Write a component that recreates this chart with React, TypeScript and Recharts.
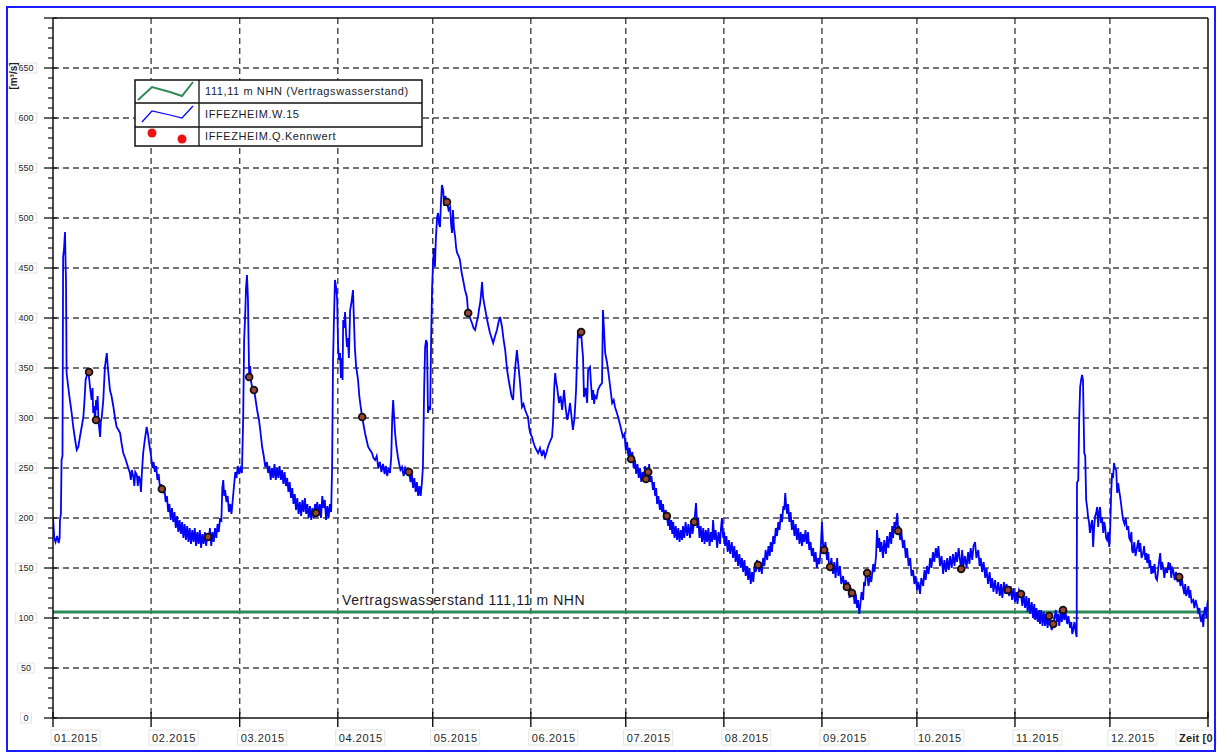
import React from 'react';
import { ComposedChart, Line, Scatter, XAxis, YAxis, CartesianGrid, ReferenceLine } from 'recharts';

const FONT = '"Liberation Sans", Arial, sans-serif';

// Month starts (day of year 2015) and their tick labels
const monthStarts = [0, 31, 59, 90, 120, 151, 181, 212, 243, 273, 304, 334, 365];
const monthLabels = ['01.2015', '02.2015', '03.2015', '04.2015', '05.2015', '06.2015', '07.2015', '08.2015', '09.2015', '10.2015', '11.2015', '12.2015', 'Zeit [0'];
const yMajorTicks = [0, 50, 100, 150, 200, 250, 300, 350, 400, 450, 500, 550, 600, 650, 700];
const yAllTicks = Array.from({ length: 71 }, (_, i) => i * 10);

// 111,11 m NHN (Vertragswasserstand) expressed as discharge
const VERTRAG_Q = 106;

// IFFEZHEIM.W.15 — [day, m³/s]
const janW = [[0,201],[0.4,180],[0.8,176],[1.3,182],[1.8,175],[2.1,180],[2.2,198],[2.5,204],[2.7,258],[3.0,262],[3.2,461],[3.5,470],[3.8,486],[4.0,450],[4.1,440],[4.3,345],[4.7,334],[5.2,321],[5.6,312],[5.9,305],[6.4,291],[7.0,278],[7.5,268],[8.0,271],[8.5,281],[9.0,290],[9.6,301],[10.0,320],[10.3,338],[10.8,344],[11.2,346],[11.7,331],[12.2,318],[12.5,330],[12.7,305],[13.0,312],[13.3,296],[13.6,318],[13.8,308],[14.1,322],[14.4,296],[14.9,281],[15.1,296],[15.4,301],[15.9,318],[16.4,351],[16.7,358],[17.0,365],[17.3,352],[17.5,345],[18.0,328],[18.5,322],[19.1,311],[19.6,300],[20.1,291],[20.7,288],[21.2,285],[21.7,274],[22.2,265],[22.8,260],[23.3,255],[23.8,250],[24.3,245],[24.6,238],[24.9,248],[25.4,241],[25.7,232],[26.0,246],[26.5,243],[26.8,232],[27.1,242],[27.5,238],[27.8,226],[28.1,246],[28.5,265],[29.0,278],[29.6,291],[30.0,284],[30.5,272]];
const febW = [[31.0,262],[31.4,250],[31.8,256],[32.2,246],[32.6,252],[33.0,238],[33.4,244],[33.8,230],[34.2,234],[34.4,229],[34.8,226],[35.2,230],[35.6,216],[36.0,222],[36.4,206],[36.8,214],[37.2,198],[37.6,210],[38.0,196],[38.4,206],[38.8,190],[39.2,202],[39.6,186],[40.0,198],[40.4,184],[40.8,196],[41.2,180],[41.6,194],[42.0,178],[42.4,192],[42.8,176],[43.2,190],[43.6,174],[44.0,188],[44.4,176],[44.8,190],[45.2,172],[45.6,186],[46.0,174],[46.4,188],[46.8,170],[47.2,184],[47.6,174],[48.0,186],[48.4,172],[48.8,184],[49.2,178],[49.6,190],[50.0,172],[50.4,186],[50.8,176],[51.2,190],[51.6,180],[52.0,194],[52.4,186],[52.8,200],[53.2,196],[53.5,230],[53.8,238],[54.1,222],[54.4,228],[54.8,216],[55.2,222],[55.6,206],[56.0,214],[56.4,204],[56.8,218],[57.2,232],[57.6,246],[58.0,240],[58.4,252],[58.8,244]];
const marW = [[59.2,250],[59.7,245],[60.1,300],[60.4,378],[60.7,400],[61.0,430],[61.3,443],[61.6,420],[61.8,378],[62.0,341],[62.3,352],[62.6,336],[63.0,330],[63.5,328],[63.9,321],[64.5,308],[65.1,298],[65.6,285],[66.1,271],[66.6,262],[67.1,251],[67.6,256],[68.0,245],[68.4,252],[68.8,238],[69.2,250],[69.6,240],[70.0,254],[70.4,238],[70.8,250],[71.2,240],[71.6,252],[72.0,238],[72.4,248],[72.8,234],[73.2,246],[73.6,232],[74.0,240],[74.4,226],[74.8,236],[75.2,220],[75.6,230],[76.0,214],[76.4,224],[76.8,208],[77.2,220],[77.6,204],[78.0,216],[78.4,202],[78.8,218],[79.2,206],[79.6,220],[80.0,204],[80.4,214],[80.8,200],[81.2,212],[81.6,198],[82.0,210],[82.4,200],[82.8,214],[83.1,205],[83.5,216],[83.9,202],[84.3,214],[84.7,200],[85.1,222],[85.5,210],[85.9,218],[86.3,198],[86.7,212],[87.1,200],[87.5,214],[87.9,206],[88.2,250],[88.5,358],[88.8,400],[89.1,438]];
const aprW = [[89.5,430],[89.8,418],[90.1,371],[90.4,358],[90.7,365],[91.0,340],[91.3,360],[91.5,338],[91.7,398],[92.0,390],[92.3,406],[92.6,385],[92.9,371],[93.2,380],[93.5,360],[93.9,408],[94.3,415],[94.8,428],[95.1,398],[95.4,370],[95.8,351],[96.1,345],[96.4,338],[96.8,322],[97.2,312],[97.7,301],[98.2,292],[98.6,285],[99.1,278],[99.6,271],[100.2,268],[100.8,265],[101.3,260],[101.8,258],[102.3,262],[102.8,250],[103.3,256],[103.8,246],[104.3,254],[104.8,244],[105.2,252],[105.6,242],[106.1,250],[106.5,245],[106.9,262],[107.2,300],[107.5,318],[107.8,300],[108.1,285],[108.5,272],[109.0,261],[109.4,254],[109.8,248],[110.3,251],[110.8,242],[111.3,250],[111.9,245],[112.5,246],[113.0,236],[113.4,244],[113.8,230],[114.2,240],[114.6,226],[115.0,236],[115.4,222],[115.8,232],[116.2,222],[116.6,236],[116.9,251],[117.3,330],[117.6,371],[117.9,378],[118.2,375],[118.5,305],[118.8,312],[119.2,308],[119.5,380],[119.8,430],[120.1,455]];
const mayW = [[120.4,470],[120.7,451],[121.0,480],[121.4,501],[121.7,505],[122.0,494],[122.3,491],[122.6,515],[122.9,533],[123.3,528],[123.6,512],[124.0,522],[124.5,516],[125.0,508],[125.5,511],[125.8,494],[126.1,485],[126.4,508],[126.7,490],[127.1,481],[127.4,470],[127.7,465],[128.2,462],[128.6,458],[129.1,446],[129.6,438],[130.2,428],[130.8,421],[131.2,405],[131.8,400],[132.4,395],[132.9,390],[133.4,388],[133.9,396],[134.3,401],[134.7,410],[135.0,415],[135.3,425],[135.6,436],[135.9,421],[136.5,410],[137.2,398],[137.6,392],[138.1,385],[138.6,380],[139.1,375],[139.7,382],[140.3,388],[140.8,396],[141.3,401],[141.9,391],[142.4,378],[142.9,368],[143.5,348],[144.0,338],[144.4,331],[144.9,322],[145.4,318],[145.7,335],[146.0,348],[146.6,368],[147.0,355],[147.6,335],[148.2,311],[148.7,314],[149.2,308],[149.7,304],[150.1,301],[150.5,290],[150.8,285]];
const junW = [[151.4,281],[151.8,276],[152.3,271],[152.8,268],[153.3,265],[153.9,270],[154.5,262],[155.0,268],[155.5,261],[156.0,266],[156.4,271],[157.0,276],[157.7,281],[158.0,295],[158.4,330],[158.7,345],[159.0,336],[159.3,331],[159.9,315],[160.4,322],[160.9,308],[161.2,318],[161.5,328],[162.0,310],[162.5,298],[163.0,306],[163.4,315],[163.9,300],[164.3,288],[164.8,300],[165.3,328],[165.6,360],[165.9,388],[166.4,380],[166.9,386],[167.2,372],[167.5,361],[167.8,321],[168.3,330],[168.8,315],[169.1,348],[169.7,351],[170.0,335],[170.4,318],[170.7,328],[171.0,314],[171.3,322],[171.8,320],[172.2,328],[172.8,332],[173.5,335],[173.8,408],[174.1,390],[174.5,365],[175.1,355],[175.7,341],[176.2,328],[176.7,315],[177.2,318],[177.6,311],[178.1,306],[178.6,301],[179.3,292],[180.1,281]];
const julW = [[180.6,284],[181.0,268],[181.4,276],[181.8,262],[182.2,270],[182.7,259],[183.1,266],[183.5,250],[183.9,258],[184.3,244],[184.7,254],[185.1,240],[185.5,250],[185.9,236],[186.3,246],[186.7,238],[187.1,252],[187.4,236],[187.7,248],[188.1,240],[188.4,254],[188.7,236],[189.1,242],[189.6,228],[189.9,236],[190.3,222],[190.6,230],[190.9,214],[191.3,222],[191.8,208],[192.1,218],[192.5,206],[192.8,214],[193.2,198],[193.6,208],[194.0,202],[194.4,192],[194.7,204],[195.0,188],[195.4,198],[195.7,184],[196.0,196],[196.4,180],[196.8,192],[197.2,178],[197.6,190],[198.0,176],[198.4,188],[198.8,178],[199.1,192],[199.5,180],[199.9,196],[200.4,182],[200.8,194],[201.3,180],[201.7,196],[202.1,184],[202.6,196],[202.9,204],[203.2,215],[203.6,190],[203.9,200],[204.3,180],[204.7,192],[205.1,176],[205.5,190],[205.9,174],[206.3,188],[206.7,176],[207.1,190],[207.5,172],[207.9,186],[208.3,176],[208.6,198],[209.0,178],[209.4,188],[209.9,170],[210.3,186],[210.8,174],[211.1,190],[211.4,200],[211.8,180],[212.1,186]];
const augW = [[212.4,172],[212.8,182],[213.2,166],[213.6,178],[214.0,164],[214.5,176],[214.9,160],[215.3,172],[215.7,156],[216.1,168],[216.5,152],[216.9,164],[217.3,150],[217.7,160],[218.1,146],[218.5,158],[218.9,142],[219.3,152],[219.7,138],[220.1,150],[220.5,134],[220.9,146],[221.3,136],[221.7,152],[222.1,146],[222.5,158],[222.8,153],[223.2,146],[223.6,156],[224.0,144],[224.4,160],[224.8,152],[225.2,168],[225.7,158],[226.1,172],[226.5,162],[226.8,176],[227.2,166],[227.6,182],[228.0,174],[228.4,190],[228.8,182],[229.2,196],[229.6,188],[230.0,204],[230.4,196],[230.8,212],[231.1,208],[231.4,225],[231.7,212],[232.0,204],[232.3,214],[232.7,196],[233.1,206],[233.5,188],[233.9,198],[234.3,182],[234.7,194],[235.1,178],[235.5,190],[235.9,174],[236.3,186],[236.7,172],[237.0,184],[237.4,176],[237.8,188],[238.2,174],[238.6,186],[239.0,168],[239.4,176],[239.8,162],[240.2,170],[240.6,156],[241.0,166],[241.4,150],[241.8,160],[242.2,154],[242.6,168]];
const sepW = [[243.0,196],[243.4,170],[243.7,168],[244.1,176],[244.6,158],[245.0,166],[245.3,148],[245.6,151],[246.0,160],[246.5,144],[246.9,156],[247.3,140],[247.8,160],[248.2,142],[248.7,152],[249.1,134],[249.7,142],[250.1,128],[250.5,138],[250.9,131],[251.3,136],[251.7,120],[252.1,130],[252.5,125],[252.9,128],[253.3,114],[253.7,124],[254.1,110],[254.4,118],[254.8,104],[255.1,112],[255.5,126],[256.0,118],[256.3,136],[256.6,132],[257.0,148],[257.3,145],[257.7,132],[258.2,142],[258.6,136],[259.2,154],[259.6,146],[260.1,162],[260.4,188],[260.8,170],[261.1,180],[261.4,166],[261.8,176],[262.3,160],[262.7,178],[263.2,164],[263.6,182],[264.0,170],[264.5,186],[264.9,174],[265.2,192],[265.5,180],[265.9,196],[266.3,190],[266.8,205],[267.1,187],[267.4,192],[267.7,178],[268.1,186],[268.6,170],[269.0,178],[269.5,160],[269.9,170],[270.4,152],[270.9,160],[271.3,142],[271.8,148],[272.2,134],[272.6,142]];
const octW = [[273.1,128],[273.5,136],[274.0,124],[274.4,140],[275.0,132],[275.4,148],[275.8,138],[276.2,152],[276.7,144],[277.2,160],[277.6,150],[278.1,166],[278.5,156],[279.0,170],[279.4,160],[279.8,172],[280.3,152],[280.8,162],[281.3,144],[281.7,158],[282.2,146],[282.6,160],[283.1,148],[283.5,162],[284.0,150],[284.4,164],[284.9,152],[285.3,166],[285.7,156],[286.2,170],[286.6,158],[287.0,149],[287.3,168],[287.7,152],[288.2,162],[288.7,150],[289.2,166],[289.6,154],[290.0,170],[290.5,158],[290.9,172],[291.4,176],[291.8,160],[292.4,168],[292.8,152],[293.2,160],[293.6,146],[294.1,156],[294.6,140],[295.0,150],[295.5,134],[296.0,146],[296.4,130],[296.8,140],[297.2,126],[297.7,138],[298.2,124],[298.7,136],[299.2,122],[299.6,134],[300.0,120],[300.5,136],[300.9,124],[301.3,134],[301.8,128],[302.2,122],[302.6,132],[303.1,118],[303.5,130],[304.0,116]];
const novW = [[304.4,126],[304.8,114],[305.3,128],[305.9,124],[306.3,112],[306.7,124],[307.2,110],[307.6,122],[308.0,106],[308.4,120],[308.8,104],[309.3,116],[309.7,100],[310.1,114],[310.4,98],[310.8,110],[311.2,96],[311.6,108],[311.9,94],[312.3,108],[312.7,92],[313.1,106],[313.5,92],[313.9,104],[314.3,90],[314.8,102],[315.2,96],[315.6,88],[316.1,94],[316.5,100],[316.9,108],[317.3,96],[317.6,104],[318.0,92],[318.4,106],[318.8,96],[319.2,108],[319.6,98],[320.0,106],[320.5,94],[320.9,102],[321.4,90],[321.8,96],[322.1,84],[322.4,88],[322.8,96],[323.0,91],[323.3,84],[323.5,81],[323.6,235],[324.0,238],[324.3,300],[324.6,331],[324.9,338],[325.2,343],[325.5,338],[325.7,300],[325.9,265],[326.2,262],[326.5,218],[326.8,211],[327.1,201],[327.4,196],[327.7,185],[328.0,192],[328.4,198],[328.7,171],[329.0,190],[329.3,201],[329.7,206],[330.0,211],[330.3,191],[330.6,205],[330.9,211],[331.2,195],[331.5,201],[331.9,185],[332.2,196],[332.5,191],[332.8,180],[333.1,178],[333.5,186],[333.8,171],[334.1,190]];
const decW = [[334.4,225],[334.7,245],[335.0,240],[335.3,255],[335.6,250],[336.0,248],[336.3,225],[336.6,235],[336.9,228],[337.2,222],[337.5,215],[337.9,204],[338.2,198],[338.6,194],[339.0,200],[339.4,188],[339.8,192],[340.1,180],[340.4,178],[340.8,186],[341.0,168],[341.3,165],[341.7,176],[342.1,162],[342.6,171],[343.0,178],[343.3,166],[343.6,175],[344.0,160],[344.5,165],[344.8,172],[345.2,158],[345.5,165],[345.8,155],[346.2,164],[346.5,150],[346.7,158],[347.1,144],[347.4,152],[347.7,145],[348.1,154],[348.5,140],[348.9,138],[349.3,150],[349.6,158],[349.9,165],[350.2,148],[350.5,156],[350.8,151],[351.2,140],[351.6,150],[352.1,145],[352.5,156],[352.8,148],[353.0,155],[353.4,140],[353.7,150],[354.0,148],[354.5,138],[354.9,146],[355.4,136],[355.9,141],[356.3,132],[356.7,140],[357.1,131],[357.5,124],[357.8,134],[358.1,122],[358.4,125],[358.8,132],[359.1,120],[359.4,128],[359.8,116],[360.3,118],[360.7,110],[361.1,118],[361.6,111],[362.0,104],[362.3,110],[362.5,101],[362.9,96],[363.2,104],[363.5,91],[363.8,106],[364.1,111],[364.5,100],[364.8,114],[365.0,118]];

// IFFEZHEIM.Q.Kennwert — [day, m³/s]
const kennwert = [[11.4,346],[13.6,298],[34.4,229],[49.0,181],[62.0,341],[63.5,328],[83.1,205],[97.7,301],[112.5,246],[124.5,516],[131.2,405],[166.9,386],[182.7,259],[187.4,239],[188.1,246],[194.0,202],[202.6,196],[222.8,153],[243.7,168],[245.6,151],[250.9,131],[252.5,125],[257.3,145],[267.1,187],[287.0,149],[301.8,128],[305.9,124],[314.8,102],[316.1,94],[319.2,108],[355.9,141]];

const wData = [...janW, ...febW, ...marW, ...aprW, ...mayW, ...junW, ...julW, ...augW, ...sepW, ...octW, ...novW, ...decW].map(([d, v]) => ({ d, v }));
const kData = kennwert.map(([d, v]) => ({ d, v }));

const labelColor = '#262626';

const YTick = (props: any) => {
  const { x, y, payload } = props;
  const v = payload.value as number;
  const major = yMajorTicks.includes(v);
  const showLabel = major && v < 700;
  const s = String(v);
  const w = 6 + 5.2 * s.length;
  return (
    <g>
      {major ? (
        <line x1={x - 9} x2={x + 4} y1={y} y2={y} stroke="#111" strokeWidth={1.3} />
      ) : (
        <line x1={x - 5} x2={x} y1={y} y2={y} stroke="#111" strokeWidth={1.2} />
      )}
      {showLabel && (
        <g>
          <rect x={26 - w / 2} y={y - 5} width={w} height={10} fill="#fff" stroke="#dcdcdc" strokeWidth={0.8} />
          <text x={26} y={y + 3.2} textAnchor="middle" fontSize={9} fontFamily={FONT} fill={labelColor}>{s}</text>
        </g>
      )}
    </g>
  );
};

const XTick = (props: any) => {
  const { x, y, index } = props;
  const label = monthLabels[index] ?? '';
  const isLast = index === monthLabels.length - 1;
  const tx = isLast ? x - 29 : x + 1;
  return (
    <g>
      <line x1={x} x2={x} y1={y - 6} y2={y + 9} stroke="#111" strokeWidth={1.4} />
      <rect x={tx - 3} y={y + 12} width={isLast ? 40 : 49} height={15} fill="#fff" stroke="#dcdcdc" strokeWidth={0.8} />
      <text x={tx} y={y + 23.5} fontSize={11} letterSpacing={isLast ? 0.2 : 0.6} fontWeight={isLast ? 'bold' : 'normal'} fontFamily={FONT} fill={labelColor}>{label}</text>
    </g>
  );
};

const RefLabel = (props: any) => {
  const vb = props.viewBox || {};
  return (
    <text x={(vb.x ?? 53) + 289} y={(vb.y ?? 612) - 7} fontSize={14} letterSpacing={0.6} fontFamily={FONT} fill="#1a1a2a">
      Vertragswasserstand 111,11 m NHN
    </text>
  );
};

const KDot = (props: any) => {
  const { cx, cy } = props;
  if (cx == null || cy == null) return <g />;
  return <circle cx={cx} cy={cy} r={3.4} fill="#9a4434" stroke="#111" strokeWidth={1.8} />;
};

export default function App() {
  return (
    <div style={{ position: 'absolute', left: 0, top: 0, width: 1217, height: 753, overflow: 'hidden', background: '#fff' }}>
      <ComposedChart width={1217} height={753} margin={{ top: 18, right: 9, bottom: 0, left: 0 }}>
        <CartesianGrid
          horizontal
          vertical
          horizontalValues={yMajorTicks.filter((v) => v > 0 && v < 700)}
          verticalValues={monthStarts.slice(1, -1)}
          stroke="#444"
          strokeWidth={1.4}
          strokeDasharray="6 4"
        />
        <XAxis
          type="number"
          dataKey="d"
          domain={[0, 365]}
          ticks={monthStarts}
          interval={0}
          height={35}
          tickLine={false}
          tickSize={0}
          tickMargin={0}
          axisLine={{ stroke: '#111', strokeWidth: 1.5 }}
          tick={<XTick />}
          allowDataOverflow
        />
        <YAxis
          type="number"
          domain={[0, 700]}
          ticks={yAllTicks}
          interval={0}
          width={53}
          tickLine={false}
          tickSize={0}
          tickMargin={0}
          axisLine={{ stroke: '#111', strokeWidth: 1.5 }}
          tick={<YTick />}
          allowDataOverflow
        />
        <ReferenceLine y={700} stroke="#111" strokeWidth={1.5} />
        <ReferenceLine x={365} stroke="#111" strokeWidth={1.5} />
        <ReferenceLine y={VERTRAG_Q} stroke="#2e8b57" strokeWidth={3} label={<RefLabel />} />
        <Line data={wData} dataKey="v" type="linear" stroke="#0000ff" strokeWidth={1.8} dot={false} isAnimationActive={false} />
        <Scatter data={kData} dataKey="v" shape={<KDot />} isAnimationActive={false} />
      </ComposedChart>
      <svg width={1217} height={753} style={{ position: 'absolute', left: 0, top: 0, pointerEvents: 'none' }}>
        <rect x={7} y={7} width={1208} height={744} fill="none" stroke="#1a1aff" strokeWidth={2} />
        <text transform="translate(17,76) rotate(-90)" textAnchor="middle" fontSize={10} fontWeight="bold" fontFamily={FONT} fill="#222">[m³/s]</text>
        <g>
          <rect x={135} y={80} width={287} height={66} fill="#fff" stroke="#111" strokeWidth={1.5} />
          <line x1={135} x2={422} y1={103} y2={103} stroke="#111" strokeWidth={1.3} />
          <line x1={135} x2={422} y1={127} y2={127} stroke="#111" strokeWidth={1.3} />
          <line x1={199} x2={199} y1={80} y2={146} stroke="#111" strokeWidth={1.3} />
          <polyline points="138,100 152,87 170,92 182,96 193,82" fill="none" stroke="#2e8b57" strokeWidth={2} />
          <polyline points="142,122 152,111 170,115 182,118 193,106" fill="none" stroke="#0000ff" strokeWidth={1.2} />
          <circle cx={152} cy={133} r={4.5} fill="#ee1111" />
          <circle cx={182} cy={139} r={4.5} fill="#ee1111" />
          <text x={205} y={95} fontSize={11} letterSpacing={0.6} fontFamily={FONT} fill="#1a1a2a">111,11 m NHN (Vertragswasserstand)</text>
          <text x={205} y={118} fontSize={11} letterSpacing={0.6} fontFamily={FONT} fill="#1a1a2a">IFFEZHEIM.W.15</text>
          <text x={205} y={140} fontSize={11} letterSpacing={0.6} fontFamily={FONT} fill="#1a1a2a">IFFEZHEIM.Q.Kennwert</text>
        </g>
      </svg>
    </div>
  );
}
